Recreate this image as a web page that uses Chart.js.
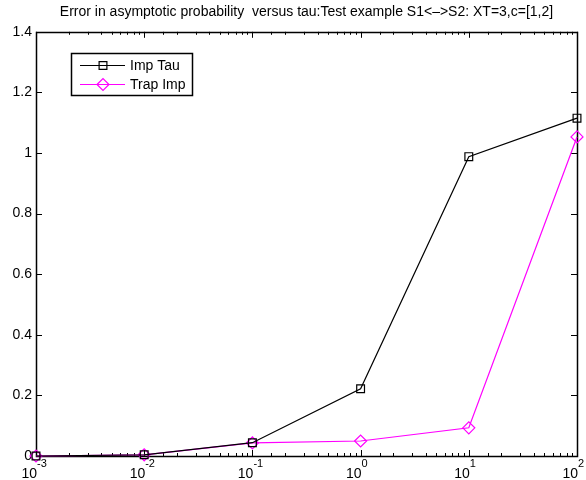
<!DOCTYPE html>
<html>
<head>
<meta charset="utf-8">
<script src="https://cdn.jsdelivr.net/npm/chart.js@4/dist/chart.umd.min.js"></script>
<style>
  html, body { margin: 0; padding: 0; background: #fff; }
  #wrap { width: 586px; height: 480px; }
</style>
</head>
<body>
<div id="wrap"><canvas id="myChart" width="586" height="480"></canvas></div>
<script>
// données
const tauValues = [0.001, 0.01, 0.1, 1, 10, 100];
const impTau = [0, 0.004, 0.044, 0.222, 0.988, 1.115];
const trapImp = [0, 0.004, 0.043, 0.0495, 0.093, 1.053];
const seriesNames = ['Imp Tau', 'Trap Imp'];
const xTickExponents = ['-3', '-2', '-1', '0', '1', '2'];
const yTicks = [0, 0.2, 0.4, 0.6, 0.8, 1, 1.2, 1.4];

const FONT = 'Liberation Sans, Arial, Helvetica, sans-serif';

function toPoints(ys) {
  return tauValues.map((x, i) => ({ x: x, y: ys[i] }));
}

// cadre + graduations vers l'intérieur, façon matlab
const boxPlugin = {
  id: 'boxTicks',
  beforeDatasetsDraw(chart) {
    const { ctx, chartArea: a, scales } = chart;
    ctx.save();
    ctx.strokeStyle = '#000';
    ctx.lineWidth = 1;
    ctx.beginPath();
    // ticks x (majeurs et mineurs), en bas et en haut
    scales.x.ticks.forEach(t => {
      const px = Math.round(scales.x.getPixelForValue(t.value)) + 0.5;
      const e = Math.log10(t.value);
      const major = Math.abs(e - Math.round(e)) < 1e-9;
      const len = major ? 6 : 3;
      ctx.moveTo(px, a.bottom); ctx.lineTo(px, a.bottom - len);
      ctx.moveTo(px, a.top); ctx.lineTo(px, a.top + len);
    });
    // ticks y à gauche et à droite
    yTicks.forEach(v => {
      const py = Math.round(scales.y.getPixelForValue(v)) + 0.5;
      ctx.moveTo(a.left, py); ctx.lineTo(a.left + 6, py);
      ctx.moveTo(a.right, py); ctx.lineTo(a.right - 6, py);
    });
    ctx.stroke();
    ctx.lineWidth = 1.5;
    ctx.strokeRect(Math.round(a.left) + 0.5, Math.round(a.top) + 0.5,
      Math.round(a.right - a.left), Math.round(a.bottom - a.top));

    // étiquettes x : 10 avec exposant
    ctx.fillStyle = '#000';
    ctx.textBaseline = 'alphabetic';
    tauValues.forEach((v, i) => {
      const px = scales.x.getPixelForValue(v);
      ctx.font = '14px ' + FONT;
      ctx.textAlign = 'right';
      ctx.fillText('10', px + 1, 478);
      ctx.font = '11px ' + FONT;
      ctx.textAlign = 'left';
      ctx.fillText(xTickExponents[i], px + 1, 467);
    });
    ctx.restore();
  },
  afterDraw(chart) {
    // légende dans un encadré en haut à gauche
    const ctx = chart.ctx;
    const bx = 71, by = 53, bw = 121, bh = 42;
    ctx.save();
    ctx.fillStyle = '#fff';
    ctx.fillRect(bx, by, bw, bh);
    ctx.strokeStyle = '#000';
    ctx.lineWidth = 1.5;
    ctx.strokeRect(bx + 0.5, by + 0.5, bw, bh);
    ctx.font = '14px ' + FONT;
    ctx.textBaseline = 'middle';
    chart.data.datasets.forEach((ds, i) => {
      const y = by + 12 + i * 19;
      ctx.strokeStyle = ds.borderColor;
      ctx.lineWidth = 1.2;
      ctx.beginPath();
      ctx.moveTo(80, y + 0.5);
      ctx.lineTo(125, y + 0.5);
      ctx.stroke();
      ctx.fillStyle = 'rgba(0,0,0,0)';
      Chart.helpers.drawPoint(ctx, {
        pointStyle: ds.pointStyle, radius: ds.pointRadius, rotation: 0,
        borderWidth: 1.2
      }, 103, y + 0.5);
      ctx.fillStyle = '#000';
      ctx.fillText(ds.label, 130, y + 1);
    });
    ctx.restore();
  }
};

const ctx = document.getElementById('myChart').getContext('2d');
new Chart(ctx, {
  type: 'line',
  data: {
    datasets: [
      {
        label: seriesNames[0],
        data: toPoints(impTau),
        borderColor: '#000000',
        backgroundColor: 'rgba(0,0,0,0)',
        borderWidth: 1.2,
        pointStyle: 'rect',
        pointRadius: 5.5,
        pointBorderWidth: 1.2,
        pointBackgroundColor: 'rgba(0,0,0,0)',
        pointBorderColor: '#000000',
        tension: 0,
        clip: false
      },
      {
        label: seriesNames[1],
        data: toPoints(trapImp),
        borderColor: '#ff00ff',
        backgroundColor: 'rgba(0,0,0,0)',
        borderWidth: 1.2,
        pointStyle: 'rectRot',
        pointRadius: 6,
        pointBorderWidth: 1.2,
        pointBackgroundColor: 'rgba(0,0,0,0)',
        pointBorderColor: '#ff00ff',
        tension: 0,
        clip: false
      }
    ]
  },
  options: {
    responsive: false,
    animation: false,
    layout: { padding: { left: 0, right: 9, top: 0, bottom: 0 } },
    plugins: {
      legend: { display: false },
      tooltip: { enabled: false },
      title: {
        display: true,
        fullSize: false,
        text: 'Error in asymptotic probability  versus tau:Test example S1<\u2013>S2: XT=3,c=[1,2]',
        color: '#000',
        font: { family: FONT, size: 14, weight: 'normal' },
        padding: { top: 4, bottom: 11 }
      }
    },
    scales: {
      x: {
        type: 'logarithmic',
        min: 0.001,
        max: 100,
        grid: { display: false, drawTicks: false },
        border: { display: false },
        ticks: { display: false },
        afterFit: (s) => { s.height = 24; s.paddingLeft = 0; s.paddingRight = 0; }
      },
      y: {
        min: 0,
        max: 1.4,
        grid: { display: false, drawTicks: false },
        border: { display: false },
        afterBuildTicks: (s) => { s.ticks = yTicks.map(v => ({ value: v })); },
        ticks: {
          color: '#000',
          font: { family: FONT, size: 14 },
          padding: 4,
          callback: (v) => String(+v.toFixed(1))
        },
        afterFit: (s) => { s.width = 36; s.paddingTop = 0; s.paddingBottom = 0; }
      }
    }
  },
  plugins: [boxPlugin]
});
</script>
</body>
</html>
